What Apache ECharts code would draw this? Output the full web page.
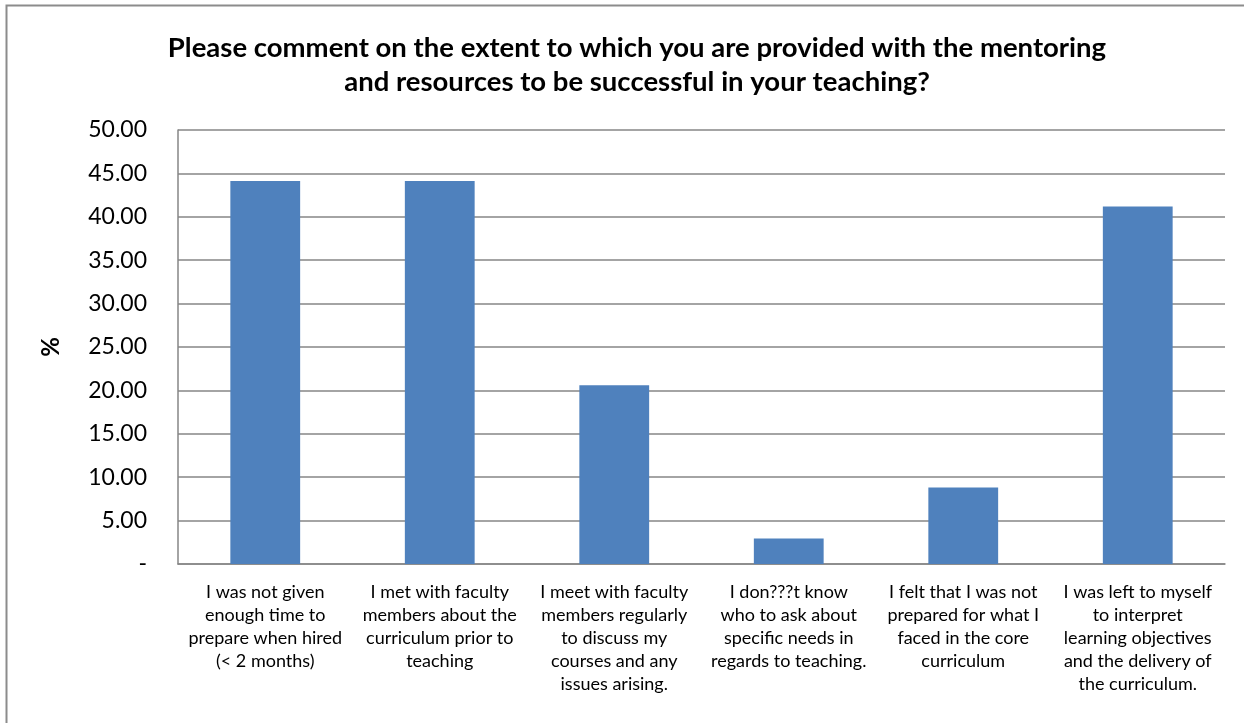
<!DOCTYPE html>
<html>
<head>
<meta charset="utf-8">
<style>
  html, body { margin: 0; padding: 0; background: #fff; }
  #chart { width: 1244px; height: 723px; }
</style>
<script src="https://cdn.jsdelivr.net/npm/echarts@6/dist/echarts.min.js"></script>
</head>
<body>
<div id="chart"></div>
<script>
// Survey responses on mentoring and teaching resources (% of respondents)
const categories = [
  'I was not given\nenough time to\nprepare when hired\n(< 2 months)',
  'I met with faculty\nmembers about the\ncurriculum prior to\nteaching',
  'I meet with faculty\nmembers regularly\nto discuss my\ncourses and any\nissues arising.',
  'I don???t know\nwho to ask about\nspecific needs in\nregards to teaching.',
  'I felt that I was not\nprepared for what I\nfaced in the core\ncurriculum',
  'I was left to myself\nto interpret\nlearning objectives\nand the delivery of\nthe curriculum.'
];
const percentages = [44.12, 44.12, 20.59, 2.94, 8.82, 41.18];
const titleLines = [
  'Please comment on the extent to which you are provided with the mentoring',
  'and resources to be successful in your teaching?'
];
const yAxisName = '%';

const FONT = 'Lato, "Liberation Sans", sans-serif';
const chart = echarts.init(document.getElementById('chart'), null, { renderer: 'canvas' });

chart.setOption({
  animation: false,
  backgroundColor: '#ffffff',
  graphic: [{
    type: 'rect',
    shape: { x: 6.5, y: 5.5, width: 1260, height: 740 },
    style: { fill: 'none', stroke: '#8c8c8c', lineWidth: 2 },
    silent: true
  }],
  title: {
    text: titleLines.join('\n'),
    left: 632,
    textAlign: 'center',
    top: 26,
    textStyle: {
      fontFamily: FONT,
      fontWeight: 'bold',
      fontSize: 27.5,
      lineHeight: 34,
      color: '#000'
    }
  },
  grid: { left: 178, right: 19, top: 130, bottom: 159, containLabel: false },
  xAxis: {
    type: 'category',
    data: categories,
    axisLine: { show: true, lineStyle: { color: '#868686', width: 1.5 } },
    axisTick: { show: false },
    axisLabel: {
      interval: 0,
      margin: 17,
      fontFamily: FONT,
      fontSize: 18,
      lineHeight: 23,
      color: '#000'
    }
  },
  yAxis: {
    type: 'value',
    min: 0,
    max: 50,
    interval: 5,
    name: yAxisName,
    nameLocation: 'middle',
    nameGap: 115,
    nameRotate: 90,
    nameTextStyle: { fontFamily: FONT, fontWeight: 'bold', fontSize: 24, color: '#000' },
    axisLine: { show: true, lineStyle: { color: '#868686', width: 1.5 } },
    axisTick: { show: false },
    splitLine: { lineStyle: { color: '#868686', width: 1.5 } },
    axisLabel: {
      margin: 31,
      fontFamily: FONT,
      fontSize: 23,
      color: '#000',
      formatter: v => v === 0 ? '-' : v.toFixed(2)
    }
  },
  series: [{
    type: 'bar',
    data: percentages,
    barCategoryGap: '60%',
    itemStyle: { color: '#4F81BD' }
  }]
});
</script>
</body>
</html>
